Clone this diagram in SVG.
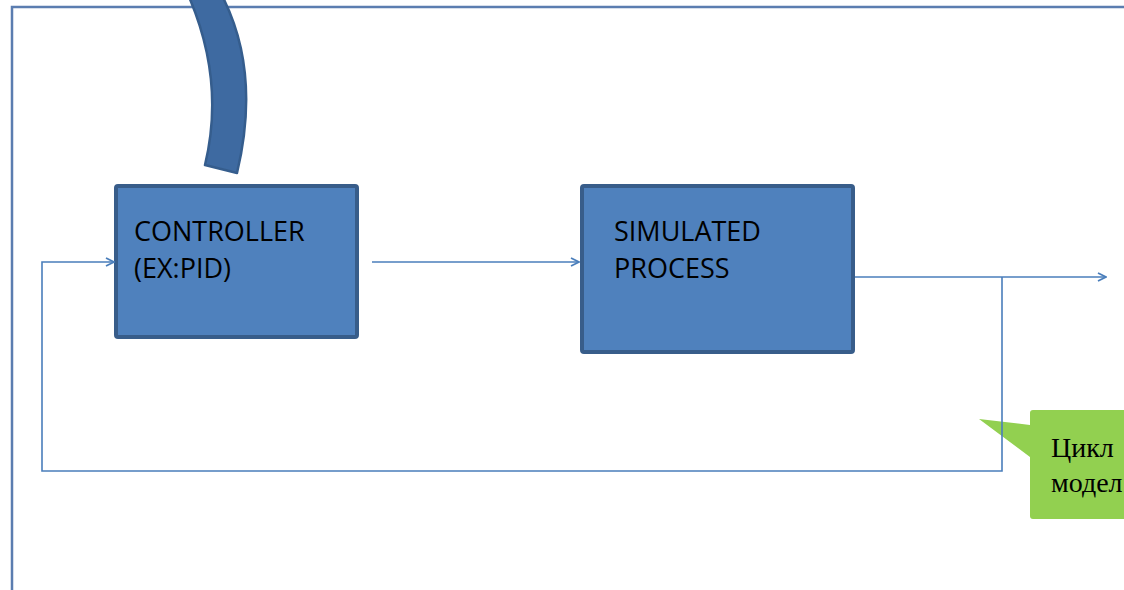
<svg xmlns="http://www.w3.org/2000/svg" width="1124" height="590" viewBox="0 0 1124 590">
<defs>
<style>
.frame{fill:none;stroke:#5b7db0;stroke-width:2.5}
.box{fill:#4f81bd;stroke:#385d8a;stroke-width:4}
.lbl{font-family:"Open Sans","Liberation Sans",sans-serif;font-size:27px;fill:#000}
.conn{fill:none;stroke:#4a7ebb;stroke-width:1.6}
.cyr{font-family:"Liberation Serif","Noto Sans CJK SC",serif;font-size:28px;fill:#000}
</style>
<marker id="arr" viewBox="0 0 10 10" refX="9" refY="5" markerWidth="10" markerHeight="10" markerUnits="userSpaceOnUse" orient="auto">
<path d="M1,1 L9,5 L1,9" fill="none" stroke="#4a7ebb" stroke-width="1.8"/>
</marker>
</defs>
<rect width="1124" height="590" fill="#fff"/>
<g id="frame">
<path class="frame" d="M12,592 L12,7 L1126,7"/>
</g>
<g id="arc">
<path d="M186,-10 Q226,78 205,165 L237,173 Q262,68 219,-10 Z" fill="#3e6aa1" stroke="#355d8d" stroke-width="2.5" stroke-linejoin="round"/>
</g>
<g id="controller">
<rect class="box" x="116" y="186" width="241" height="151" rx="2"/>
<text class="lbl" x="134" y="241">CONTROLLER</text>
<text class="lbl" x="134" y="278">(EX:PID)</text>
</g>
<g id="process">
<rect class="box" x="582" y="186" width="271" height="166" rx="2"/>
<text class="lbl" x="614" y="241">SIMULATED</text>
<text class="lbl" x="614" y="278">PROCESS</text>
</g>
<g id="callout">
<path d="M1033,410 L1124,410 L1124,519 L1033,519 Q1030,519 1030,516 L1030,457 L979,419 L1030,425 L1030,413 Q1030,410 1033,410 Z" fill="#92d050"/>
<text class="cyr" x="1051" y="457">Цикл</text>
<text class="cyr" x="1051" y="492">модел</text>
</g>
<g id="connectors">
<path class="conn" d="M372,262 L579,262" marker-end="url(#arr)"/>
<path class="conn" d="M855,277 L1106,277" marker-end="url(#arr)"/>
<path class="conn" d="M1002,277 L1002,471 L42,471 L42,262 L114,262" marker-end="url(#arr)"/>
</g>
</svg>
